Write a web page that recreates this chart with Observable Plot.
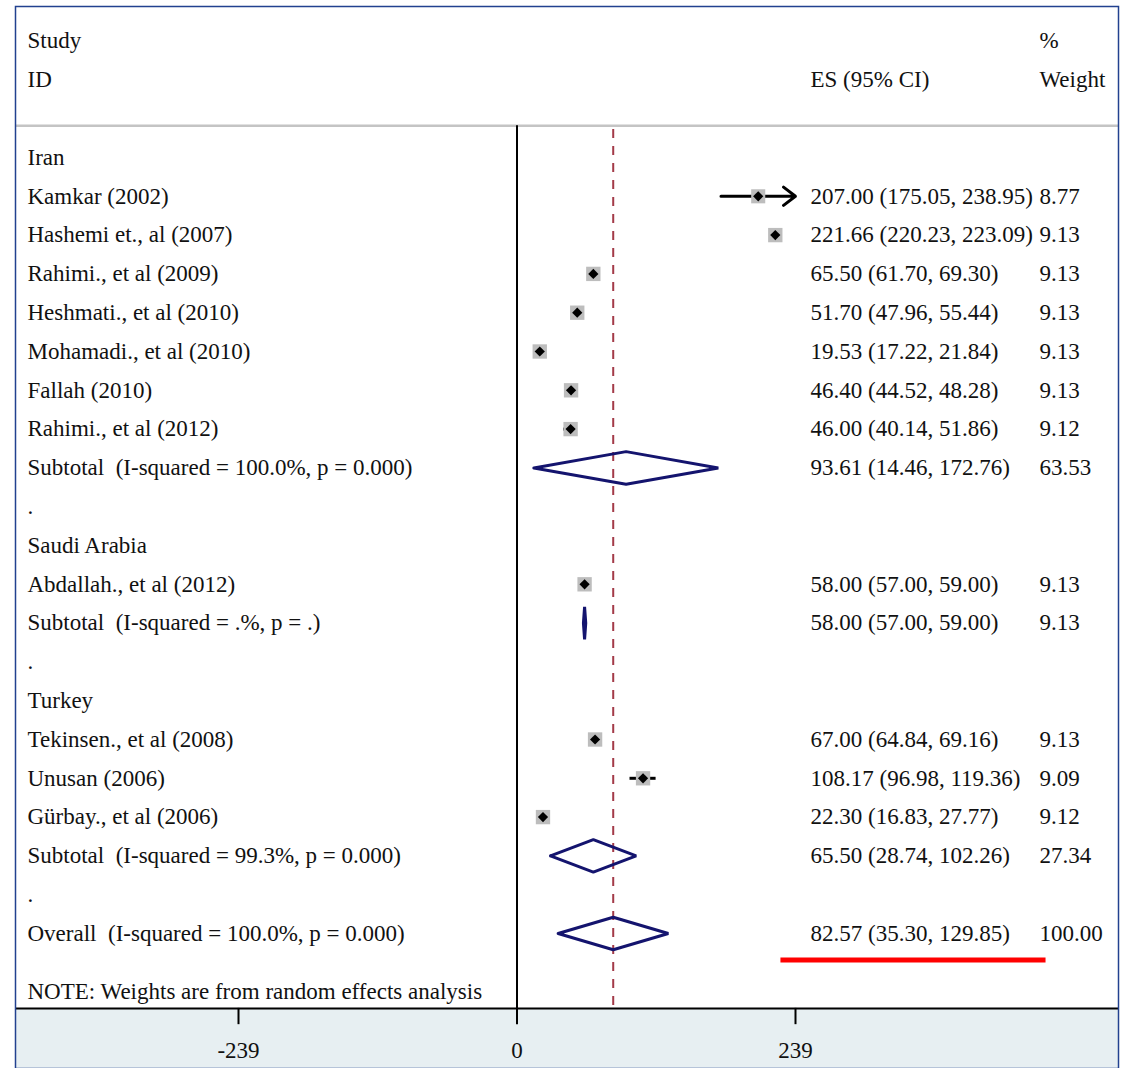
<!DOCTYPE html>
<html>
<head>
<meta charset="utf-8">
<script src="https://cdn.jsdelivr.net/npm/d3@7"></script>
<script src="https://cdn.jsdelivr.net/npm/@observablehq/plot@0.6"></script>
<style>
  html, body { margin: 0; padding: 0; background: #fff; }
  #chart svg { display: block; }
</style>
</head>
<body>
<div id="chart"></div>
<script>
// ---- data ----
const groups = ["Iran", "Saudi Arabia", "Turkey"];
const studies = ["Kamkar (2002)", "Hashemi et., al (2007)", "Rahimi., et al (2009)", "Heshmati., et al (2010)",
  "Mohamadi., et al (2010)", "Fallah (2010)", "Rahimi., et al (2012)", "Abdallah., et al (2012)",
  "Tekinsen., et al (2008)", "Unusan (2006)", "Gürbay., et al (2006)"];
const studyGroup = ["Iran", "Iran", "Iran", "Iran", "Iran", "Iran", "Iran", "Saudi Arabia", "Turkey", "Turkey", "Turkey"];
const studyES = [207.00, 221.66, 65.50, 51.70, 19.53, 46.40, 46.00, 58.00, 67.00, 108.17, 22.30];
const studyLo = [175.05, 220.23, 61.70, 47.96, 17.22, 44.52, 40.14, 57.00, 64.84, 96.98, 16.83];
const studyHi = [238.95, 223.09, 69.30, 55.44, 21.84, 48.28, 51.86, 59.00, 69.16, 119.36, 27.77];
const studyWeight = [8.77, 9.13, 9.13, 9.13, 9.13, 9.13, 9.12, 9.13, 9.13, 9.09, 9.12];
const subtotalLabels = ["Subtotal\u00a0 (I-squared = 100.0%, p = 0.000)", "Subtotal\u00a0 (I-squared = .%, p = .)", "Subtotal\u00a0 (I-squared = 99.3%, p = 0.000)"];
const subtotalES = [93.61, 58.00, 65.50];
const subtotalLo = [14.46, 57.00, 28.74];
const subtotalHi = [172.76, 59.00, 102.26];
const subtotalWeight = [63.53, 9.13, 27.34];
const overallLabel = "Overall\u00a0 (I-squared = 100.0%, p = 0.000)";
const overallES = 82.57, overallLo = 35.30, overallHi = 129.85, overallWeight = 100.00;
const axisTicks = [-239, 0, 239];
const axisMax = 239;
const noteText = "NOTE: Weights are from random effects analysis";

// ---- build row table ----
const fmt = d3.format(".2f");
const ci = (e, l, h) => `${fmt(e)} (${fmt(l)}, ${fmt(h)})`;
const rows = [];      // every text row
const studyRows = []; // study points
const diamonds = [];  // summary diamonds
let r = 0;
groups.forEach((g, gi) => {
  rows.push({row: r++, label: g});
  studies.forEach((s, i) => {
    if (studyGroup[i] !== g) return;
    const d = {row: r++, label: s, es: studyES[i], lo: studyLo[i], hi: studyHi[i], w: studyWeight[i]};
    d.esText = ci(d.es, d.lo, d.hi); d.wText = fmt(d.w);
    rows.push(d); studyRows.push(d);
  });
  const sub = {row: r++, label: subtotalLabels[gi], es: subtotalES[gi], lo: subtotalLo[gi], hi: subtotalHi[gi], w: subtotalWeight[gi]};
  sub.esText = ci(sub.es, sub.lo, sub.hi); sub.wText = fmt(sub.w);
  rows.push(sub);
  diamonds.push(sub);
  rows.push({row: r++, label: "."});
});
const overall = {row: r++, label: overallLabel, es: overallES, lo: overallLo, hi: overallHi, w: overallWeight};
overall.esText = ci(overall.es, overall.lo, overall.hi); overall.wText = fmt(overall.w);
rows.push(overall);
diamonds.push(overall);

const H = 0.42; // diamond half height in row units
const diamondPts = diamonds.flatMap((d, k) => [
  {k, x: d.lo, y: d.row}, {k, x: d.es, y: d.row - H}, {k, x: d.hi, y: d.row},
  {k, x: d.es, y: d.row + H}, {k, x: d.lo, y: d.row}
]);

const headerRow1 = -3, headerRow2 = -2;
const topRule = -0.82;
const axisRow = 21.93;
const noteRow = 21.5;

const FONT = "Liberation Serif, Times New Roman, serif";
const FS = 23;
const ink = "#111";
const navy = "#14146e";

// CI reaching the axis limit (239 after rounding) is drawn with an arrow, as Stata does
const arrowed = studyRows.filter(d => Math.round(d.hi) >= axisMax);
const plain = studyRows.filter(d => Math.round(d.hi) < axisMax);

const plot = Plot.plot({
  width: 1122,
  height: 1068,
  marginTop: 6, marginLeft: 15, marginRight: 4, marginBottom: 0,
  x: {domain: [-239, 239], range: [238, 795], axis: null},
  y: {domain: [0, 20], range: [157, 933], axis: null},
  r: {type: "sqrt", domain: [0, 9.13], range: [0, 8.1]},
  style: {fontFamily: FONT, background: "#fff"},
  marks: [
    // bottom axis background
    Plot.rect([axisRow], {y1: d => d, y2: 23.6, fill: "#e7eff2"}),
    // header rule
    Plot.ruleY([topRule], {stroke: "#c4c4c4", strokeWidth: 2.5}),
    // null line
    Plot.ruleX([0], {y1: topRule, y2: axisRow, stroke: "#000", strokeWidth: 2}),
    // overall dashed line
    Plot.ruleX([overallES], {y1: topRule + 0.1, y2: axisRow, stroke: "#a33a48", strokeWidth: 2, strokeDasharray: "9,8"}),
    // axis line & ticks
    Plot.ruleY([axisRow], {stroke: "#000", strokeWidth: 2}),
    Plot.ruleX(axisTicks, {y1: axisRow, y2: axisRow + 0.42, stroke: "#000", strokeWidth: 2}),
    Plot.text(axisTicks, {x: d => d, y: axisRow + 1.08, text: d => String(d), fontSize: FS, fill: ink, fontFamily: FONT}),
    // study CIs
    Plot.ruleY(plain, {y: "row", x1: "lo", x2: "hi", stroke: "#000", strokeWidth: 3}),
    Plot.arrow(arrowed, {x1: "lo", x2: "hi", y1: "row", y2: "row", stroke: "#000", strokeWidth: 3, headLength: 7.5, headAngle: 75}),
    // weight boxes
    Plot.dot(studyRows, {x: "es", y: "row", r: "w", symbol: "square", fill: "#bdbdbd", stroke: "none"}),
    // point markers
    Plot.dot(studyRows, {x: "es", y: "row", r: 4.6, symbol: "diamond2", fill: "#000", stroke: "none"}),
    // summary diamonds
    Plot.line(diamondPts, {x: "x", y: "y", z: "k", stroke: navy, strokeWidth: 3, fill: "none", curve: "linear", strokeLinejoin: "miter"}),
    // header text
    Plot.text(["Study"], {frameAnchor: "left", dx: 12, y: headerRow1, text: d => d, textAnchor: "start", fontSize: FS, fill: ink}),
    Plot.text(["ID"], {frameAnchor: "left", dx: 12, y: headerRow2, text: d => d, textAnchor: "start", fontSize: FS, fill: ink}),
    Plot.text(["ES (95% CI)"], {frameAnchor: "left", dx: 795, y: headerRow2, text: d => d, textAnchor: "start", fontSize: FS, fill: ink}),
    Plot.text(["%"], {frameAnchor: "left", dx: 1024, y: headerRow1, text: d => d, textAnchor: "start", fontSize: FS, fill: ink}),
    Plot.text(["Weight"], {frameAnchor: "left", dx: 1024, y: headerRow2, text: d => d, textAnchor: "start", fontSize: FS, fill: ink}),
    // row labels
    Plot.text(rows, {frameAnchor: "left", dx: 12, y: "row", text: "label", textAnchor: "start", fontSize: FS, fill: ink}),
    Plot.text(rows.filter(d => d.esText), {frameAnchor: "left", dx: 795, y: "row", text: "esText", textAnchor: "start", fontSize: FS, fill: ink}),
    Plot.text(rows.filter(d => d.wText), {frameAnchor: "left", dx: 1024, y: "row", text: "wText", textAnchor: "start", fontSize: FS, fill: ink}),
    Plot.text([noteText], {frameAnchor: "left", dx: 12, y: noteRow, text: d => d, textAnchor: "start", fontSize: FS, fill: ink}),
    // red underline of the overall estimate
    Plot.ruleY([overall], {y: d => d.row + 0.68, x1: 226.5, x2: 454, stroke: "#ff0000", strokeWidth: 5}),
    // outer frame
    Plot.frame({stroke: "#22418f", strokeWidth: 1.5})
  ]
});
document.getElementById("chart").appendChild(plot);
</script>
</body>
</html>
